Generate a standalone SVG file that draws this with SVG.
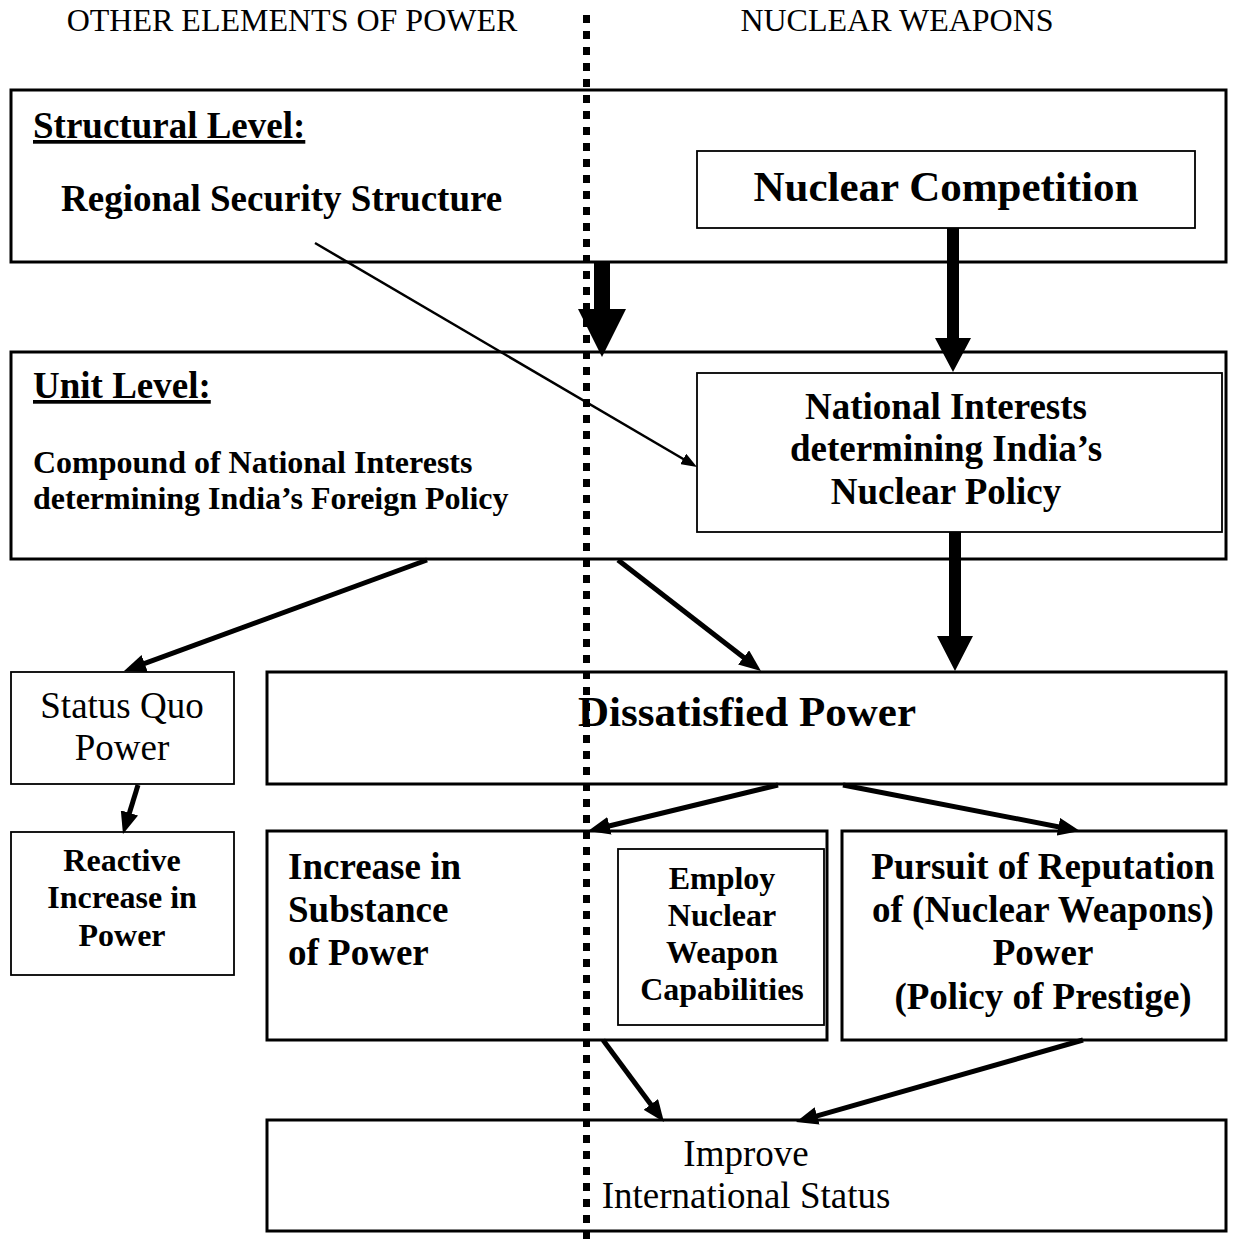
<svg xmlns="http://www.w3.org/2000/svg" width="1248" height="1247" viewBox="0 0 1248 1247">
<style>
text{font-family:"Liberation Serif","Times New Roman",serif;fill:#000}
.b{font-weight:bold}
.box{fill:none;stroke:#000;stroke-width:3}
.tbox{fill:none;stroke:#000;stroke-width:1.8}
.c{text-anchor:middle}
.arr{stroke:#000;stroke-width:5;fill:none;marker-end:url(#ah)}
.arrt{stroke:#000;stroke-width:2.5;fill:none;marker-end:url(#aht)}
.blk{fill:#000}
</style>
<defs>
<marker id="ah" markerUnits="userSpaceOnUse" viewBox="0 0 22 18" refX="10" refY="9" markerWidth="22" markerHeight="18" orient="auto"><path d="M0,0 L22,9 L0,18 Z" fill="#000"/></marker>
<marker id="aht" markerUnits="userSpaceOnUse" viewBox="0 0 16 12" refX="8" refY="6" markerWidth="16" markerHeight="12" orient="auto"><path d="M0,0 L16,6 L0,12 Z" fill="#000"/></marker>
</defs>
<rect width="1248" height="1247" fill="#fff"/>
<g id="headers">
<text x="292" y="31" font-size="32" class="c">OTHER ELEMENTS OF POWER</text>
<text x="897" y="31" font-size="32" class="c">NUCLEAR WEAPONS</text>
</g>
<g id="structural">
<rect class="box" x="11" y="90" width="1215" height="172"/>
<text x="33" y="138" font-size="37" class="b" text-decoration="underline">Structural Level:</text>
<text x="61" y="211" font-size="37" class="b">Regional Security Structure</text>
</g>
<g id="nuclear-competition">
<rect class="tbox" x="697" y="151" width="498" height="77"/>
<text x="946" y="201" font-size="43" class="b c">Nuclear Competition</text>
</g>
<g id="unit">
<rect class="box" x="11" y="352" width="1215" height="207"/>
<text x="33" y="398" font-size="37" class="b" text-decoration="underline">Unit Level:</text>
<text x="33" y="473" font-size="32" class="b">Compound of National Interests</text>
<text x="33" y="509" font-size="32" class="b">determining India’s Foreign Policy</text>
</g>
<g id="national-interests">
<rect class="tbox" x="697" y="373" width="525" height="159"/>
<text x="946" y="419" font-size="37" class="b c">National Interests</text>
<text x="946" y="461" font-size="37" class="b c">determining India’s</text>
<text x="946" y="504" font-size="37" class="b c">Nuclear Policy</text>
</g>
<g id="status-quo">
<rect class="tbox" x="11" y="672" width="223" height="112"/>
<text x="122" y="718" font-size="37" class="c">Status Quo</text>
<text x="122" y="760" font-size="37" class="c">Power</text>
</g>
<g id="dissatisfied">
<rect class="box" x="267" y="672" width="959" height="112"/>
<text x="747" y="726" font-size="43" class="b c">Dissatisfied Power</text>
</g>
<g id="reactive">
<rect class="tbox" x="11" y="832" width="223" height="143"/>
<text x="122" y="871" font-size="32" class="b c">Reactive</text>
<text x="122" y="908" font-size="32" class="b c">Increase in</text>
<text x="122" y="946" font-size="32" class="b c">Power</text>
</g>
<g id="substance">
<rect class="box" x="267" y="831" width="560" height="209"/>
<text x="288" y="879" font-size="37" class="b">Increase in</text>
<text x="288" y="922" font-size="37" class="b">Substance</text>
<text x="288" y="965" font-size="37" class="b">of Power</text>
</g>
<g id="employ">
<rect class="tbox" x="618" y="849" width="206" height="176"/>
<text x="722" y="889" font-size="32" class="b c">Employ</text>
<text x="722" y="926" font-size="32" class="b c">Nuclear</text>
<text x="722" y="963" font-size="32" class="b c">Weapon</text>
<text x="722" y="1000" font-size="32" class="b c">Capabilities</text>
</g>
<g id="pursuit">
<rect class="box" x="842" y="831" width="384" height="209"/>
<text x="1043" y="879" font-size="37" class="b c">Pursuit of Reputation</text>
<text x="1043" y="922" font-size="37" class="b c">of (Nuclear Weapons)</text>
<text x="1043" y="965" font-size="37" class="b c">Power</text>
<text x="1043" y="1009" font-size="37" class="b c">(Policy of Prestige)</text>
</g>
<g id="improve">
<rect class="box" x="267" y="1120" width="959" height="111"/>
<text x="746" y="1166" font-size="37" class="c">Improve</text>
<text x="746" y="1208" font-size="37" class="c">International Status</text>
</g>
<g id="divider">
<line x1="586.5" y1="15" x2="586.5" y2="1247" stroke="#000" stroke-width="7" stroke-dasharray="8 8"/>
</g>
<g id="connectors">
<polygon class="blk" points="594,262 610,262 610,309 626,309 602,357 578,309 594,309"/>
<polygon class="blk" points="947,228 959,228 959,338 971,338 953,372 935,338 947,338"/>
<polygon class="blk" points="949,532 961,532 961,636 973,636 955,671 937,636 949,636"/>
<line class="arrt" x1="315" y1="243" x2="690.1" y2="463"/>
<line class="arr" x1="427" y1="560" x2="135.3" y2="666.9"/>
<line class="arr" x1="618" y1="560" x2="751.5" y2="663.6"/>
<line class="arr" x1="138" y1="785" x2="126.5" y2="822.5"/>
<line class="arr" x1="778" y1="785" x2="599.7" y2="828.2"/>
<line class="arr" x1="843" y1="785" x2="1068.2" y2="828.7"/>
<line class="arr" x1="603" y1="1040" x2="656.8" y2="1112.4"/>
<line class="arr" x1="1083" y1="1040" x2="807.5" y2="1118.7"/>
</g>
</svg>
